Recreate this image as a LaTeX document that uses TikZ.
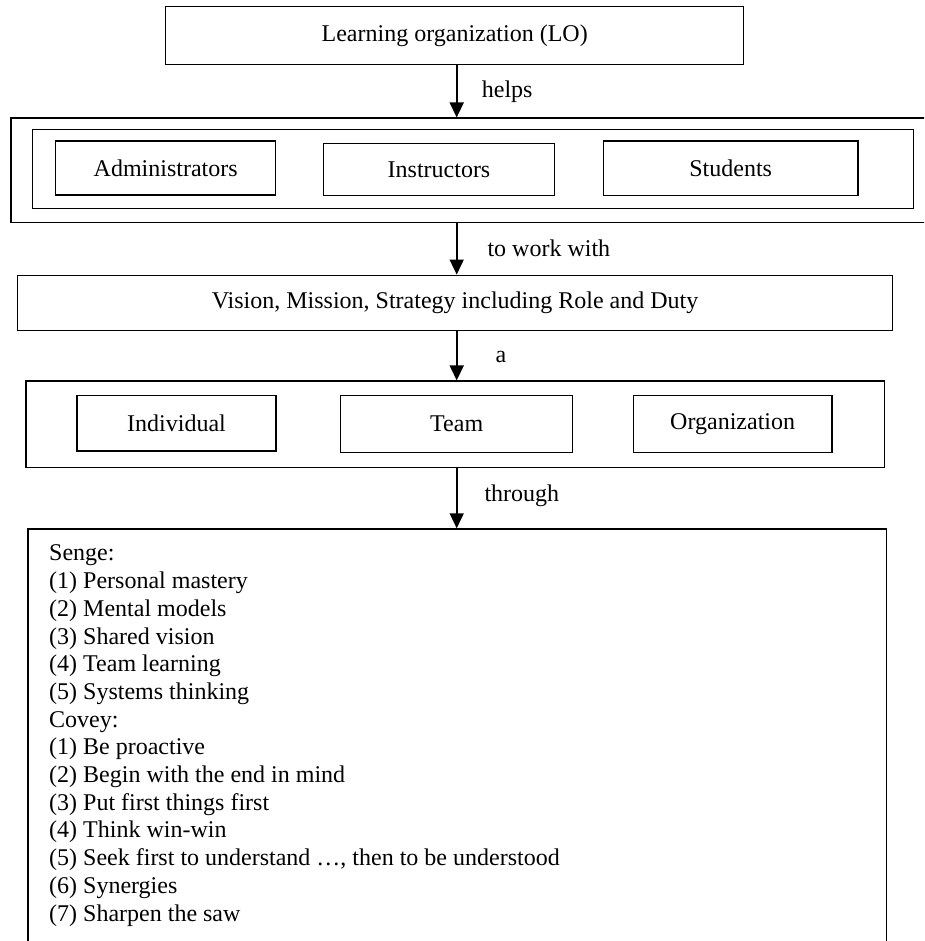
\documentclass[tikz,border=0pt]{standalone}
\usepackage{fontspec}
\setmainfont{Liberation Serif}
\usetikzlibrary{positioning,arrows.meta}

\begin{document}
\begin{tikzpicture}[x=1pt,y=-1pt,
  every node/.style={font=\fontsize{24}{27.7}\selectfont},
  box/.style={draw,line width=1.5pt,inner sep=0pt},
  frame/.style={draw,line width=1.2pt,inner sep=0pt},
  flow/.style={line width=1.7pt,-{Triangle[length=15pt,width=14pt]}},
  lbl/.style={inner sep=0pt}]
\useasboundingbox (0,0) rectangle (924,941);
\clip (0,0) rectangle (924,941);
\coordinate (axis) at (456.7,0);
\node[box,minimum width=578pt,minimum height=57.6pt] (lo) at (454.7,35.5) {Learning organization (LO)};
\node[frame,minimum width=919pt,minimum height=104.3pt] (who) at (470.5,170.2) {};
\node[draw,line width=1pt,minimum width=881.4pt,minimum height=79pt] (whoin) at (473,168.8) {};
\node[box,minimum width=220pt,minimum height=54pt] (adm) at (165.7,168) {Administrators};
\node[box,minimum width=231.4pt,minimum height=52.4pt] (ins) at (439,169.5) {Instructors};
\node[box,minimum width=254.7pt,minimum height=54.3pt] (stu) at (730.7,168.2) {Students};
\node[box,minimum width=874.8pt,minimum height=55.4pt] (vis) at (455.1,303) {Vision, Mission, Strategy including Role and Duty};
\node[frame,minimum width=858.7pt,minimum height=86.7pt] (lvl) at (455.35,424.35) {};
\node[box,minimum width=199pt,minimum height=55.3pt] (ind) at (176.5,423.35) {Individual};
\node[box,minimum width=232pt,minimum height=56.6pt] (team) at (456.7,424) {Team};
\node[box,minimum width=198.7pt,minimum height=56.6pt] (org) at (732.65,424) {Organization};
\node[box,anchor=north west,minimum width=858.4pt,minimum height=425pt] (lst) at (27.3,528.3) {};
\node[lbl,anchor=north west,align=left] (habits) at (49,544.8) {Senge:\\
(1) Personal mastery\\
(2) Mental models\\
(3) Shared vision\\
(4) Team learning\\
(5) Systems thinking\\
Covey:\\
(1) Be proactive\\
(2) Begin with the end in mind\\
(3) Put first things first\\
(4) Think win-win\\
(5) Seek first to understand …, then to be understood\\
(6) Synergies\\
(7) Sharpen the saw};
\draw[flow] (axis |- lo.south) -- node[lbl,right=24.3pt] (helps) {helps} (axis |- who.north);
\draw[flow] (axis |- who.south) -- node[lbl,right=30pt] (workwith) {to work with} (axis |- vis.north);
\draw[flow] (axis |- vis.south) -- node[lbl,right=38pt,yshift=-1.5pt] (a) {a} (axis |- lvl.north);
\draw[flow] (axis |- lvl.south) -- node[lbl,right=27pt,yshift=3pt] (through) {through} (axis |- lst.north);
\end{tikzpicture}
\end{document}
